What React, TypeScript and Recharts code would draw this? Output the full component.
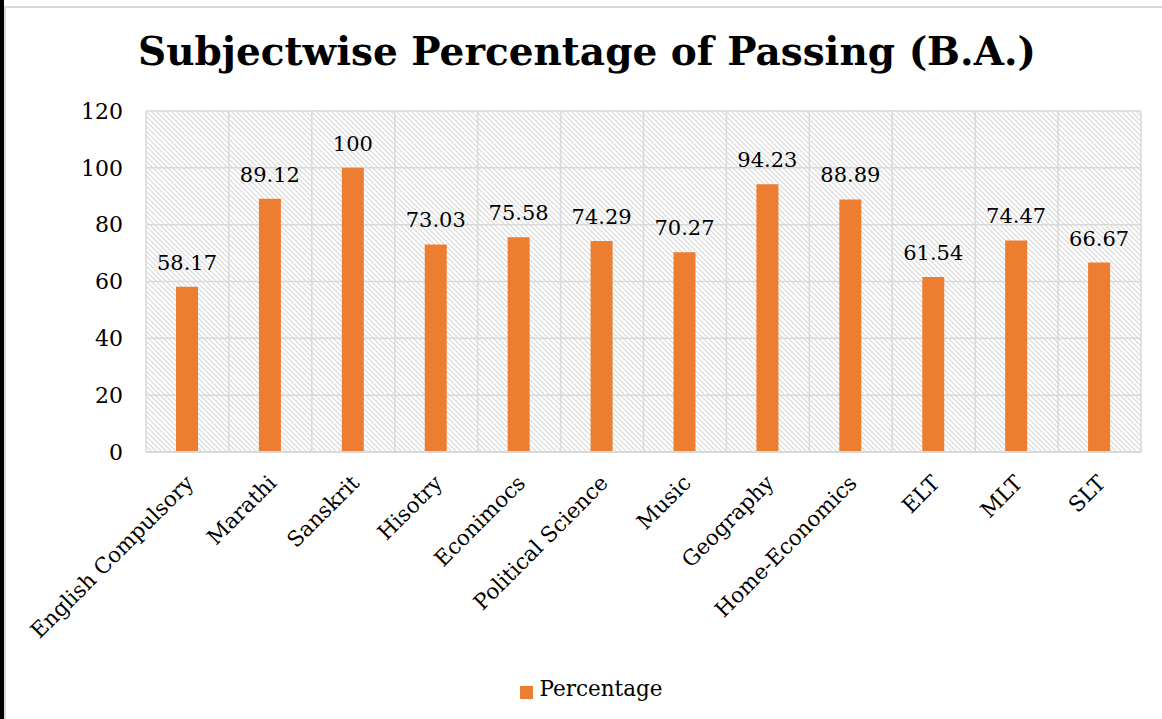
import {
  BarChart,
  Bar,
  XAxis,
  YAxis,
  CartesianGrid,
  Legend,
  LabelList,
} from "recharts";

const SUBJECTS = [
  "English Compulsory",
  "Marathi",
  "Sanskrit",
  "Hisotry",
  "Econimocs",
  "Political Science",
  "Music",
  "Geography",
  "Home-Economics",
  "ELT",
  "MLT",
  "SLT",
];

const PERCENTAGES = [
  58.17, 89.12, 100, 73.03, 75.58, 74.29, 70.27, 94.23, 88.89, 61.54, 74.47,
  66.67,
];

const Y_TICKS = [0, 20, 40, 60, 80, 100, 120];

const data = SUBJECTS.map((subject, i) => ({
  subject,
  Percentage: PERCENTAGES[i],
}));

const FONT = "'DejaVu Serif', serif";
const GRID = "#d9d9d9";

function SubjectTick({ x, y, payload }: any) {
  return (
    <g transform={`translate(${x + 2},${y + 19})`}>
      <text
        transform="rotate(-45)"
        textAnchor="end"
        dy="0.35em"
        fontSize={21.5}
        fontFamily={FONT}
        fill="#000"
      >
        {payload.value}
      </text>
    </g>
  );
}

// vertical grid lines sit on the category boundaries, not the centres
const boundaryLines = ({ offset }: any) => {
  const step = offset.width / SUBJECTS.length;
  return SUBJECTS.map((_, i) => offset.left + i * step).concat(
    offset.left + offset.width
  );
};

export default function App() {
  return (
    <div
      style={{
        position: "absolute",
        left: 0,
        top: 0,
        width: 1162,
        height: 719,
        background: "#fff",
        overflow: "hidden",
      }}
    >
      <div
        style={{
          position: "absolute",
          left: 0,
          top: 0,
          width: 4,
          height: 719,
          background: "#000",
        }}
      />
      <div
        style={{
          position: "absolute",
          left: 4,
          top: 6,
          width: 1158,
          height: 713,
          borderLeft: `2px solid ${GRID}`,
          borderTop: `2px solid ${GRID}`,
          boxSizing: "border-box",
        }}
      />
      <div
        style={{
          position: "absolute",
          left: 0,
          width: 1174,
          top: 27,
          textAlign: "center",
          fontFamily: FONT,
          fontWeight: "bold",
          fontSize: 39,
          lineHeight: "48px",
          color: "#000",
        }}
      >
        Subjectwise Percentage of Passing (B.A.)
      </div>
      <div style={{ position: "absolute", left: 0, top: 0 }}>
        <BarChart
          width={1162}
          height={719}
          data={data}
          margin={{ top: 111, right: 21, left: 86, bottom: 18 }}
        >
          <defs>
            <pattern
              id="hatch"
              patternUnits="userSpaceOnUse"
              width={5}
              height={5}
            >
              <rect width={5} height={5} fill="#fff" />
              <path
                d="M0,0 L5,5 M-1,4 L1,6 M4,-1 L6,1"
                stroke="#d9d9d9"
                strokeWidth={1.2}
              />
            </pattern>
          </defs>
          <CartesianGrid
            stroke={GRID}
            strokeWidth={1.5}
            fill="url(#hatch)"
            fillOpacity={1}
            verticalCoordinatesGenerator={boundaryLines}
          />
          <XAxis
            dataKey="subject"
            interval={0}
            height={224}
            tick={<SubjectTick />}
            tickLine={false}
            axisLine={{ stroke: GRID, strokeWidth: 2 }}
          />
          <YAxis
            width={60}
            domain={[0, 120]}
            ticks={Y_TICKS}
            tickLine={false}
            axisLine={false}
            tickMargin={17}
            tick={{ fontSize: 22, fontFamily: FONT, fill: "#000" }}
          />
          <Legend
            verticalAlign="bottom"
            iconType="square"
            iconSize={13}
            wrapperStyle={{ left: 69 }}
            formatter={(value) => (
              <span
                style={{
                  color: "#000",
                  fontFamily: FONT,
                  fontSize: 21.5,
                  marginLeft: 2,
                }}
              >
                {value}
              </span>
            )}
          />
          <Bar
            dataKey="Percentage"
            fill="#ED7D31"
            barSize={22}
            isAnimationActive={false}
          >
            <LabelList
              dataKey="Percentage"
              position="top"
              offset={17}
              fontSize={21}
              fontFamily={FONT}
              fill="#000"
            />
          </Bar>
        </BarChart>
      </div>
    </div>
  );
}
